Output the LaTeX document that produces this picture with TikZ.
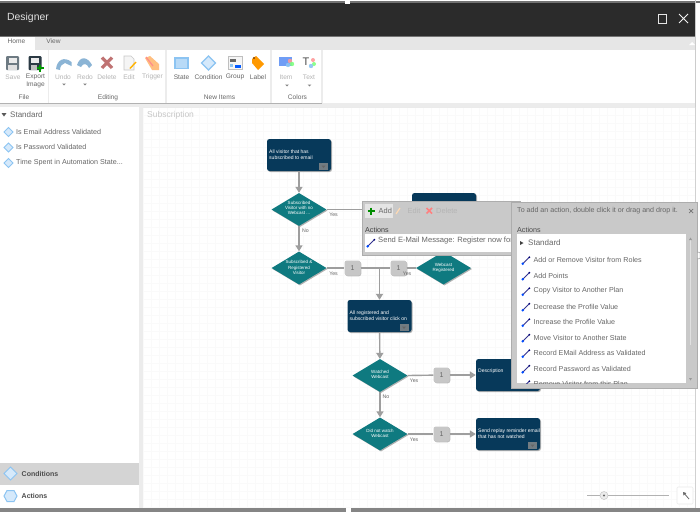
\documentclass[tikz,border=0pt]{standalone}
\usepackage{fontspec}
\setmainfont{Liberation Sans}
\usetikzlibrary{shadows,arrows.meta,calc,shapes.geometric}
\definecolor{barbg}{HTML}{2B2B2B}
\definecolor{tabbg}{HTML}{E6E6E6}
\definecolor{sepc}{HTML}{ECECEC}
\definecolor{statec}{HTML}{07395A}
\definecolor{statetop}{HTML}{0F2E44}
\definecolor{condc}{HTML}{0F7A80}
\definecolor{linec}{HTML}{9E9E9E}
\definecolor{panelc}{HTML}{C9C9C9}
\definecolor{txtc}{HTML}{666666}
\definecolor{faint}{HTML}{B4B4B4}
\definecolor{iconb}{HTML}{8CC4F2}
\definecolor{iconf}{HTML}{D5E9FB}
\definecolor{saveb}{HTML}{6D7A82}
\definecolor{expb}{HTML}{2B3A44}
\tikzset{
 x=1pt,y=-1pt,
 txt/.style={inner sep=0pt,anchor=west,text=txtc,font=\fontsize{7.15}{8}\selectfont},
 rib/.style={inner sep=0pt,text=txtc,font=\fontsize{6.6}{7.5}\selectfont,align=center},
 ribf/.style={rib,text=faint},
 sec/.style={rib,text=txtc},
 statebox/.style={draw=none,fill=statec,rounded corners=2.5pt,minimum width=64pt,minimum height=32pt,inner sep=0pt,
   drop shadow={shadow xshift=1pt,shadow yshift=-1pt,fill=black,opacity=.3}},
 statetxt/.style={inner sep=0pt,anchor=west,align=left,text=white,font=\fontsize{5.05}{5.6}\selectfont},
 condbox/.style={draw=none,fill=condc,shape=diamond,shape aspect=1.7,minimum width=55pt,minimum height=33pt,inner sep=0pt,
   drop shadow={shadow xshift=1pt,shadow yshift=-1pt,fill=black,opacity=.3}},
 condtxt/.style={inner sep=0pt,align=center,text=white,font=\fontsize{4.5}{5.2}\selectfont},
 countbox/.style={draw=none,fill=black!22,rounded corners=2.5pt,minimum width=16pt,minimum height=15pt,inner sep=0pt,
   text=txtc,font=\fontsize{7}{8}\selectfont,
   drop shadow={shadow xshift=.8pt,shadow yshift=-.8pt,fill=black,opacity=.25}},
 yes/.style={inner sep=0pt,text=txtc,font=\fontsize{5.2}{6}\selectfont},
 conn/.style={draw=linec,line width=1.4pt},
 arr/.style={conn,-{Triangle[length=6pt,width=7pt,fill=linec]}},
 panel/.style={draw=black!32,line width=.8pt,fill=panelc,
   drop shadow={shadow xshift=1pt,shadow yshift=-1pt,fill=black,opacity=.25}},
}
\newcommand{\actic}[2]{%
 \draw[line width=.8pt,color=blue!45!black!80] (#1-3,#2+3) -- (#1+3,#2-3);
 \fill[blue!70!cyan] (#1-3.3,#2+3.3) circle (1.4pt);
 \fill[blue!45!black] (#1+3.3,#2-3.3) circle (1pt);}
\newcommand{\smalldiam}[2]{\draw[iconb,fill=iconf,line width=.9pt] (#1-4.5,#2) -- (#1,#2-4.5) -- (#1+4.5,#2) -- (#1,#2+4.5) -- cycle;}
\newcommand{\statebtn}[2]{%
 \fill[black!45!white!80!statec] (#1,#2) rectangle ++(9,7);
 \fill[black!60] (#1+2.5,#2+2.5) -- ++(4,0) -- ++(-2,2.5) -- cycle;}
\newcommand{\caretd}[2]{\fill[black!50] (#1-1.8,#2-1) -- (#1+1.8,#2-1) -- (#1,#2+1) -- cycle;}
\begin{document}
\begin{tikzpicture}
\useasboundingbox (0,0) rectangle (700,512);
% base
\fill[white] (0,0) rectangle (700,512);
\fill[black!55] (0,1) rectangle (700,3);
\fill[barbg] (0,3) rectangle (695,36);
\fill[black!55] (0,35.5) rectangle (695,37);
\fill[tabbg] (0,37) rectangle (695,50);
\fill[white] (0,37) rectangle (35,50);
\fill[black!20] (695,0) rectangle (696,512);
\fill[white] (345,0) rectangle (350,4);
\node[inner sep=0pt,anchor=west,text=black!12,font=\fontsize{10.4}{12}\selectfont] (title) at (7,17.5) {Designer};
\node[inner sep=0pt,text=txtc,font=\fontsize{6.6}{8}\selectfont] (tabhome) at (16.5,41) {Home};
\node[inner sep=0pt,text=txtc,font=\fontsize{6.6}{8}\selectfont] (tabview) at (53.5,41) {View};
\draw[black!10,line width=1pt] (658.5,14) rectangle (666.5,23);
\draw[black!5,line width=1pt] (679,14) -- (688,23) (688,14) -- (679,23);
\fill[white] (692,42) -- (695,45) -- (689,45) -- cycle;
% ribbon
\fill[sepc] (0,103) rectangle (695,107);
\fill[black!30] (0,102.5) rectangle (322,103);
\foreach \x in {48.5,166,271,322}{\fill[sepc] (\x-.8,50) rectangle (\x+.8,103);}
% icons: file
\fill[saveb,rounded corners=1pt] (6,56) rectangle (19,70);
\fill[black!8] (8.5,57.5) rectangle (16.5,62.5);
\fill[black!12] (8,65) rectangle (17,70);
\fill[expb,rounded corners=1pt] (28.5,56) rectangle (41.5,70);
\fill[black!8] (31,57.5) rectangle (39,62.5);
\fill[black!25] (31,65) rectangle (37,70);
\draw[green!60!black,line width=2pt] (36.5,68) -- (43.5,68) (40,64.5) -- (40,71.5);
\node[ribf] (lsave) at (13,77) {Save};
\node[rib] (lexport) at (35.5,81) {Export\\[.5pt]Image};
% editing
\fill[iconb!85!black!85] (56,69) .. controls (57,60) and (64,56) .. (71.5,62) -- (71.5,66) -- (65,63) .. controls (62,64) and (60,66) .. (60,70) -- cycle;
\fill[iconb!85!black!85] (77,65) .. controls (80,56) and (87,56) .. (92,65) -- (89,68) .. controls (87,63) and (83,63) .. (81,67) -- cycle;
\draw[red!55!black!55,line width=3.2pt] (102,57.5) -- (112,68) (112,57.5) -- (102,68);
\draw[black!22,fill=black!4,line width=.6pt] (124,56) -- (131,56) -- (134,59) -- (134,70) -- (124,70) -- cycle;
\draw[orange!60!yellow,line width=1.4pt] (130,68.5) -- (136,62);
\fill[orange!50] (145,58) -- (150,56) -- (159,64) -- (159,70) -- (152,70) -- cycle;
\draw[red!45!white,line width=1.2pt] (146,57) -- (153,66);
\node[ribf] (lundo) at (63,77) {Undo};
\node[ribf] (lredo) at (85,77) {Redo};
\node[ribf] (ldelete) at (107,77) {Delete};
\node[ribf] (ledit) at (129,77) {Edit};
\node[ribf] (ltrigger) at (152.5,77) {Trigger};
\caretd{64}{84.5}\caretd{85}{84.5}
% new items
\draw[iconb,fill=iconf!60!iconb,line width=1.2pt] (175,58) rectangle (188,68.5);
\draw[iconb,fill=iconf,line width=1.2pt] (201.5,63) -- (208.5,56) -- (215.5,63) -- (208.5,70) -- cycle;
\draw[black!25,fill=black!4,line width=.6pt] (228.5,56.5) rectangle (242.5,69.5);
\fill[black!60] (230,59) rectangle (236,61.5);
\fill[iconb] (230,64) rectangle (233,67);
\fill[blue!65!cyan] (235,65) rectangle (241,67.5);
\fill[orange!80!yellow] (252,59) -- (256,56) -- (264,64) -- (258,70) -- (252,63) -- cycle;
\fill[black!50!orange] (254,58) circle (1.1pt);
\node[rib] (lstate) at (181.5,77) {State};
\node[rib] (lcond) at (208.5,77) {Condition};
\node[rib] (lgroup) at (235,77) {Group};
\node[rib] (llabel) at (258,77) {Label};
% colors
\fill[iconb!80!blue] (279,57) rectangle (292,66);
\fill[red!40,opacity=.9] (290,61) circle (2.2pt);
\fill[green!50,opacity=.9] (292,64) circle (2.2pt);
\fill[iconb,opacity=.9] (288,65) circle (2.2pt);
\node[inner sep=0pt,text=black!70,font=\fontsize{11}{12}\selectfont] (ticon) at (306,61.5) {T};
\fill[red!40,opacity=.9] (313,60) circle (2pt);
\fill[green!50,opacity=.9] (314,64) circle (2pt);
\fill[iconb,opacity=.9] (311,66) circle (2.2pt);
\node[ribf] (litem) at (286,77) {Item};
\node[ribf] (ltext) at (309,77) {Text};
\caretd{287}{85.5}\caretd{309.5}{85.5}
\node[sec] (sfile) at (24,97.5) {File};
\node[sec] (sedit) at (108,97.5) {Editing};
\node[sec] (snew) at (219.5,97.5) {New Items};
\node[sec] (scol) at (297.5,97.5) {Colors};
% sidebar
\fill[sepc] (138.5,107) rectangle (143,508);
\fill[black!65] (1.5,113) -- (6.5,113) -- (4,116.5) -- cycle;
\node[txt,font=\fontsize{8}{9}\selectfont] (sstd) at (10,114.5) {Standard};
\smalldiam{8.5}{132}\smalldiam{8.5}{147.5}\smalldiam{8.5}{163}
\node[txt] (c1) at (16,131.5) {Is Email Address Validated};
\node[txt] (c2) at (16,147) {Is Password Validated};
\node[txt] (c3) at (16,162.5) {Time Spent in Automation State...};
\fill[black!17] (0,462.5) rectangle (138.5,485);
\draw[iconb,fill=iconf,line width=1pt] (4,473.5) -- (10.5,467) -- (17,473.5) -- (10.5,480) -- cycle;
\draw[iconb,fill=iconf,line width=1pt] (4,496) -- (7,490.5) -- (14,490.5) -- (17,496) -- (14,501.5) -- (7,501.5) -- cycle;
\node[txt,text=black!70,font=\fontsize{7}{8}\selectfont\bfseries] (lcon) at (21.5,473.5) {Conditions};
\node[txt,text=black!70,font=\fontsize{7}{8}\selectfont\bfseries] (lact) at (21.5,496) {Actions};
% canvas
\begin{scope}
\clip (143,107) rectangle (695,508);
\foreach \x in {0,8,...,552}{\draw[black!2,line width=.4pt] (143+\x,107) -- (143+\x,508);}
\foreach \y in {0,8,...,401}{\draw[black!2,line width=.4pt] (143,107+\y) -- (695,107+\y);}
\end{scope}
\draw[black!8,line width=.8pt] (143,107) -- (695,107);
\node[inner sep=0pt,anchor=west,text=black!22,font=\fontsize{8.5}{10}\selectfont] (subs) at (147,115.5) {Subscription};
\fill[black!48] (0,508) rectangle (700,512);
\fill[white] (345.5,508) rectangle (351,512);
% flow nodes
\node[statebox] (s1) at (299,155) {};
\node[statebox] (s2) at (444,209) {};
\node[statebox] (s3) at (379.5,316) {};
\node[statebox] (s4) at (508,375) {};
\node[statebox] (s5) at (508,434) {};
\node[condbox] (d1) at (299,209.5) {};
\node[condbox] (d2) at (299,268) {};
\node[condbox] (d3) at (443.5,268) {};
\node[condbox] (d4) at (380,375.5) {};
\node[condbox] (d5) at (380,434) {};
\node[countbox] (b1) at (352.5,268) {1};
\node[countbox] (b2) at (398.5,268) {1};
\node[countbox] (b3) at (441.5,375) {1};
\node[countbox] (b4) at (441.5,434) {1};
\coordinate (j) at (379.5,268);
% connectors
\draw[arr] (s1) -- (d1);
\draw[arr] (d1) -- (d2);
\draw[conn] (d1.east) -- (s2.west |- d1.east);
\draw[conn,line width=1.1pt] (d2.east) -- (b1);
\draw[conn,line width=1.1pt] (b1) -- (b2);
\draw[conn,line width=1.1pt] (b2) -- (d3.west);
\draw[arr] (j) -- (s3);
\draw[arr] (s3) -- (d4);
\draw[arr] (d4) -- (d5);
\draw[conn] (d4.east) -- (b3);
\draw[arr] (b3) -- (s4);
\draw[conn] (d5.east) -- (b4);
\draw[arr] (b4) -- (s5);
% flow texts
\node[statetxt] (t1) at (269,154.5) {All visitor that has\\subscribed to email};
\node[statetxt] (t3) at (349.5,315.5) {All registered and\\subscribed visitor click on};
\node[statetxt] (t4) at (478,371.5) {Description};
\node[statetxt] (t5) at (478,433.5) {Send replay reminder email\\that has not watched};
\statebtn{319}{163}\statebtn{399.5}{324}\statebtn{528}{442}
\node[condtxt] (e1) at (299,208) {Subscribed\\Visitor with no\\Webcast ...};
\node[condtxt] (e2) at (299,267.5) {Subscribed \&\\Registered\\Visitor};
\node[condtxt] (e3) at (443.5,268) {Webcast\\Registered};
\node[condtxt] (e4) at (380,374.5) {Watched\\Webcast};
\node[condtxt] (e5) at (380,433.5) {Did not watch\\Webcast};
\node[yes] (y1) at (333.5,215) {Yes};
\node[yes] (n1) at (305.5,231) {No};
\node[yes] (y2) at (333.5,273.5) {Yes};
\node[yes] (y3) at (407,273.5) {Yes};
\node[yes] (y4) at (414,381) {Yes};
\node[yes] (n2) at (386,397) {No};
\node[yes] (y5) at (414,440) {Yes};
% panel 1
\draw[panel] (362.5,201.5) rectangle (520,255);
\fill[black!10] (365,203.5) rectangle (393,218);
\draw[green!55!black,line width=2pt] (367.5,211) -- (374.5,211) (371,207.5) -- (371,214.5);
\node[txt,font=\fontsize{7.4}{8}\selectfont] (padd) at (378.5,211) {Add};
\draw[orange!30,line width=1.2pt] (396,214) -- (400,208);
\node[txt,text=faint,font=\fontsize{7.4}{8}\selectfont] (pedit) at (407.5,211) {Edit};
\draw[red!50,line width=1.6pt] (426.5,208) -- (432,213.5) (432,208) -- (426.5,213.5);
\node[txt,text=faint,font=\fontsize{7.4}{8}\selectfont] (pdel) at (436,211) {Delete};
\node[txt,text=black!75] (pact) at (365,229.5) {Actions};
\fill[white] (364.5,233.5) rectangle (520,252);
\actic{371}{243}
\node[txt,font=\fontsize{7.6}{8}\selectfont] (psend) at (378,241) {Send E-Mail Message: Register now for o};
% panel 2
\draw[panel] (511.5,202) rectangle (697,388);
\node[txt,font=\fontsize{7.1}{8}\selectfont] (phelp) at (517,211) {To add an action, double click it or drag and drop it.};
\draw[black!55,line width=.7pt] (689,209) -- (693,213) (693,209) -- (689,213);
\node[txt,text=black!70] (pact2) at (517,229.5) {Actions};
\fill[white] (517,234) rectangle (686,383);
\fill[black!75] (520,241) -- (523.5,243) -- (520,245) -- cycle;
\node[txt,font=\fontsize{8}{9}\selectfont] (pstd) at (528,242.5) {Standard};
\begin{scope}
\clip (517,234) rectangle (686,383);
\foreach \y/\t [count=\i] in {260/Add or Remove Visitor from Roles,275.5/Add Points,291/Copy Visitor to Another Plan,306.5/Decrease the Profile Value,322/Increase the Profile Value,337.5/Move Visitor to Another State,353/Record EMail Address as Validated,368.5/Record Password as Validated,384/Remove Visitor from this Plan}{
 \actic{526}{\y+.5}
 \node[txt] (it\i) at (533.5,\y) {\t};
}
\end{scope}
\fill[black!12] (689.5,240) rectangle (691,345);
\fill[black!40] (689,240) -- (692,240) -- (690.5,237.5) -- cycle;
\fill[black!40] (689,378) -- (692,378) -- (690.5,380.5) -- cycle;
\draw[black!35,fill=white,rounded corners=1pt,line width=.4pt] (697.5,252) rectangle (700,259);
% slider
\draw[black!30,line width=1.2pt] (587,495.5) -- (669,495.5);
\fill[black!8] (604,495.5) circle (4pt);
\draw[black!25,line width=.4pt] (604,495.5) circle (4pt);
\fill[black!60] (604,495.5) circle (1.2pt);
\draw[black!8,fill=white,rounded corners=1pt,line width=.6pt] (677,487) rectangle (693,504);
\draw[black!60,-{Triangle[length=3pt,width=3.5pt]},line width=.8pt] (689,499) -- (683,492);
\end{tikzpicture}
\end{document}
